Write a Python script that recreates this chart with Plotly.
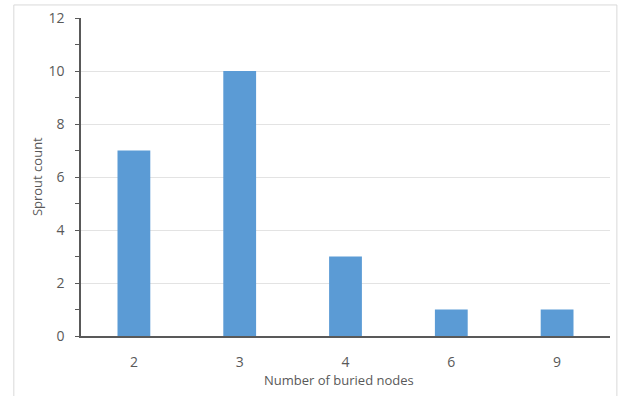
import plotly.graph_objects as go

# Sprout count by number of buried nodes
nodes = ["2", "3", "4", "6", "9"]
sprouts = [7, 10, 3, 1, 1]
y_ticks = [0, 2, 4, 6, 8, 10, 12]

fig = go.Figure(go.Bar(x=nodes, y=sprouts, marker_color="#5B9BD5", marker_line_width=0))

txt = "#595959"
fig.update_layout(
    width=623, height=396,
    paper_bgcolor="white", plot_bgcolor="white",
    margin=dict(l=81, r=13, t=18, b=60),
    bargap=0.69,
    showlegend=False,
    font=dict(family="Open Sans, Liberation Sans, sans-serif", size=14, color=txt),
    shapes=[dict(type="rect", xref="paper", yref="paper",
                 x0=-0.127, x1=1.013, y0=-0.2, y1=1.041,
                 line=dict(color="#D9D9D9", width=1), layer="below")],
    annotations=[
        dict(text="Number of buried nodes", xref="paper", yref="paper",
             x=0.487, y=-0.138, yanchor="middle", showarrow=False, font=dict(size=13, color=txt)),
        dict(text="Sprout count", xref="paper", yref="paper", textangle=-90,
             x=-0.083, y=0.5, xanchor="center", showarrow=False, font=dict(size=13, color=txt)),
    ],
)
fig.update_xaxes(
    type="category", automargin=False,
    showline=True, linecolor="#595959", linewidth=1.5,
    ticks="", showgrid=False, ticklabelstandoff=12,
)
fig.update_yaxes(
    range=[0, 12], tickvals=y_ticks, automargin=False,
    showline=True, linecolor="#595959", linewidth=1.5,
    ticks="outside", ticklen=4, tickcolor="#595959", ticklabelstandoff=8,
    minor=dict(dtick=1, ticks="outside", ticklen=4, tickcolor="#595959", showgrid=False),
    showgrid=True, gridcolor="#E3E3E3", gridwidth=1,
    zeroline=False,
)

# drop the default page margin so the chart sits at the window's corner
fig.write_html("out.html", config={"displayModeBar": False},
               post_script="document.body.style.margin='0';")
